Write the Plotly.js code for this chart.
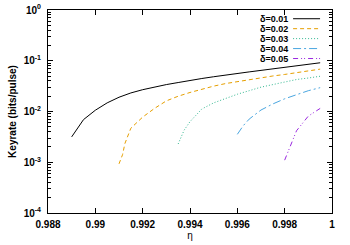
<!DOCTYPE html>
<html>
<head>
<meta charset="utf-8">
<script src="https://cdn.plot.ly/plotly-3.0.1.min.js"></script>
<style>html,body{margin:0;padding:0;background:#fff;}#chart{width:350px;height:245px;}</style>
</head>
<body>
<div id="chart"></div>
<script>
const seriesNames = ["δ=0.01", "δ=0.02", "δ=0.03", "δ=0.04", "δ=0.05"];

const eta1 = [0.989, 0.9895, 0.990, 0.9905, 0.991, 0.9915, 0.992, 0.9925, 0.993, 0.9935, 0.994,
              0.9945, 0.995, 0.9955, 0.996, 0.9965, 0.997, 0.9975, 0.998, 0.9985, 0.999, 0.9995];
const key1 = [0.00316, 0.00692, 0.0106, 0.0148, 0.0191, 0.0232, 0.0269, 0.0305, 0.0339, 0.0372, 0.0412,
              0.0447, 0.0484, 0.0525, 0.0562, 0.0603, 0.0646, 0.0692, 0.0741, 0.0785, 0.0851, 0.0912];

const eta2 = [0.991, 0.99115, 0.99125, 0.9915, 0.992, 0.9925, 0.993, 0.9935, 0.994, 0.9945,
              0.995, 0.9955, 0.996, 0.9965, 0.997, 0.9975, 0.998, 0.9985, 0.999, 0.9995];
const key2 = [0.00093, 0.00141, 0.00234, 0.00468, 0.00776, 0.0115, 0.0162, 0.0200, 0.0237, 0.0275,
              0.0316, 0.0355, 0.0389, 0.0422, 0.0457, 0.0501, 0.0537, 0.0582, 0.0631, 0.0684];

const eta3 = [0.9935, 0.99375, 0.994, 0.9945, 0.995, 0.9955, 0.996, 0.9965, 0.997, 0.9975,
              0.998, 0.9985, 0.999, 0.9995];
const key3 = [0.00229, 0.00427, 0.00631, 0.0112, 0.0148, 0.0182, 0.0219, 0.0257, 0.0302, 0.0339,
              0.0380, 0.0427, 0.0457, 0.0495];

const eta4 = [0.996, 0.99625, 0.9965, 0.997, 0.9975, 0.998, 0.9985, 0.999, 0.9995];
const key4 = [0.00355, 0.00525, 0.00708, 0.0107, 0.0141, 0.0178, 0.0214, 0.0257, 0.0295];

const eta5 = [0.998, 0.99825, 0.9985, 0.999, 0.9995];
const key5 = [0.0011, 0.00209, 0.00417, 0.00813, 0.0115];

const xTickVals = [0.988, 0.990, 0.992, 0.994, 0.996, 0.998, 1.0];
const xTickText = ["0.988", "0.99", "0.992", "0.994", "0.996", "0.998", "1"];
const yTickVals = [1e-4, 1e-3, 1e-2, 1e-1, 1];
const yTickText = ["10<sup>-4</sup>", "10<sup>-3</sup>", "10<sup>-2</sup>", "10<sup>-1</sup>", "10<sup>0</sup>"];

const xs = [eta1, eta2, eta3, eta4, eta5];
const ys = [key1, key2, key3, key4, key5];
const colors = ["#000000", "#e69f00", "#33b890", "#4aa6e0", "#9a28e0"];
const dashes = ["solid", "4px,3px", "1px,2px", "8px,3px,2px,3px", "5px,3px,1px,2px,1px,3px"];

const traces = xs.map((x, i) => ({
  x: x, y: ys[i], type: "scatter", mode: "lines", name: seriesNames[i],
  line: {color: colors[i], width: 1, dash: dashes[i]}, showlegend: false
}));

const font = {family: "Liberation Sans, Arial, sans-serif", size: 10, color: "#000", weight: "bold"};
const legFont = {family: "Liberation Sans, Arial, sans-serif", size: 9, color: "#000", weight: "bold"};

const legY0 = 0.957, legStep = 0.049;
const annotations = seriesNames.map((n, i) => ({
  xref: "paper", yref: "paper", x: 0.848, y: legY0 - i * legStep,
  xanchor: "right", yanchor: "middle", text: n, showarrow: false, font: legFont,
  borderpad: 0
}));
const shapes = seriesNames.map((n, i) => ({
  type: "line", xref: "paper", yref: "paper",
  x0: 0.863, x1: 0.958, y0: legY0 - i * legStep, y1: legY0 - i * legStep,
  line: {color: colors[i], width: 1, dash: dashes[i]}
}));

const layout = {
  width: 350, height: 245,
  margin: {l: 48, r: 18, t: 10, b: 32},
  paper_bgcolor: "#fff", plot_bgcolor: "#fff",
  font: font,
  showlegend: false,
  xaxis: {
    range: [0.988, 1.0], tickvals: xTickVals, ticktext: xTickText,
    ticks: "inside", ticklen: 5, tickcolor: "#000", mirror: "ticks",
    showline: true, linecolor: "#000", linewidth: 1, showgrid: false, zeroline: false,
    tickfont: font, ticklabelstandoff: 2,
    title: {text: "η", font: {family: "Liberation Sans, Arial, sans-serif", size: 10, color: "#000", weight: "normal"}, standoff: 0}
  },
  yaxis: {
    type: "log", range: [-4, 0], tickvals: yTickVals, ticktext: yTickText,
    ticks: "inside", ticklen: 5, tickcolor: "#000", mirror: "ticks",
    showline: true, linecolor: "#000", linewidth: 1, showgrid: false, zeroline: false,
    tickfont: font, ticklabelstandoff: 4,
    minor: {tickmode: "linear", dtick: "D1", ticks: "inside", ticklen: 3, tickcolor: "#000", showgrid: false},
    title: {text: "Keyrate (bits/pulse)", font: font, standoff: 5}
  },
  annotations: annotations,
  shapes: shapes
};

Plotly.newPlot("chart", traces, layout, {staticPlot: true, displayModeBar: false});
</script>
</body>
</html>
